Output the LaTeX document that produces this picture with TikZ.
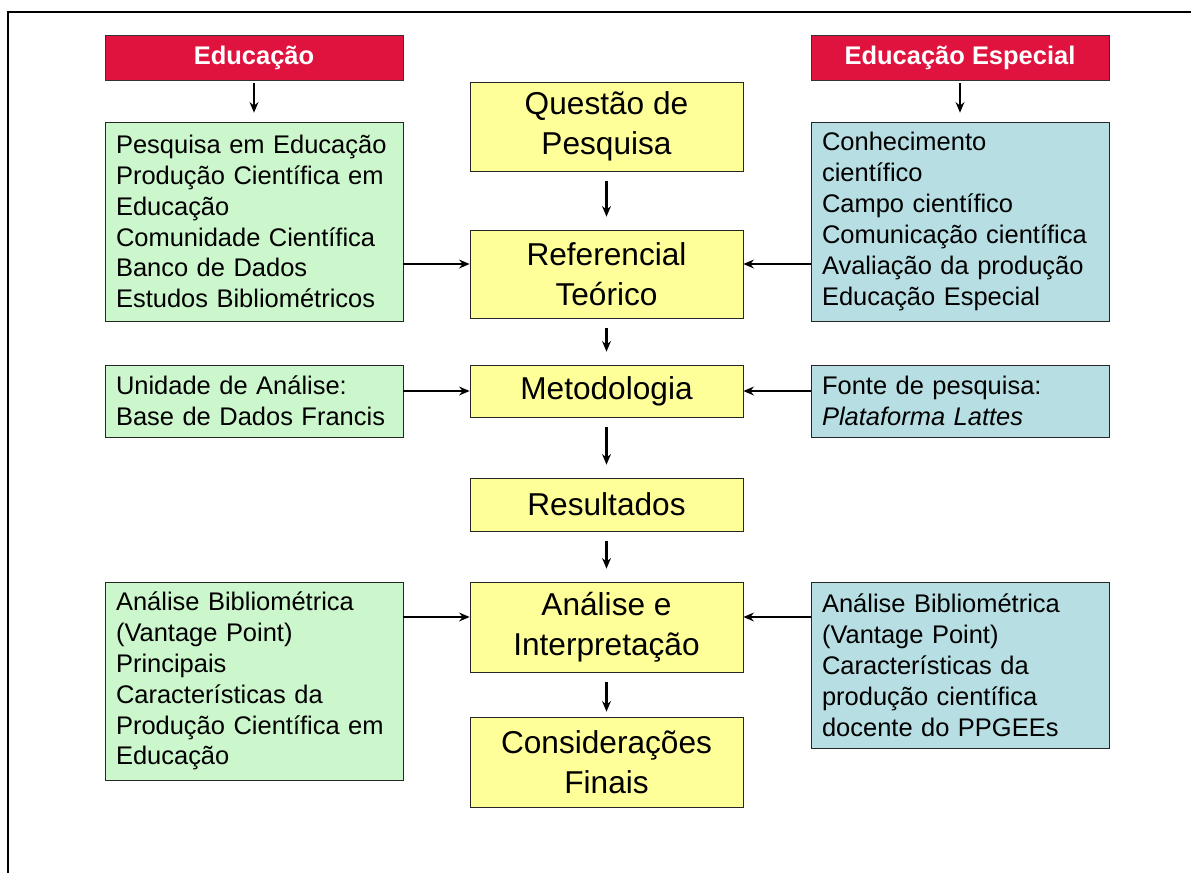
\documentclass[tikz,border=0pt]{standalone}
\usepackage{fontspec}
\setmainfont{Liberation Sans}
\usepackage{tikz}
\usetikzlibrary{positioning, arrows.meta, calc}

\definecolor{edured}{RGB}{224,18,62}
\definecolor{edugreen}{RGB}{204,246,204}
\definecolor{espblue}{RGB}{183,222,226}
\definecolor{stageyellow}{RGB}{255,255,153}

\tikzset{
    titlebox/.style={draw=black!80, fill=edured, text=white, inner sep=0pt,
        font=\bfseries\fontsize{14.5}{17}\selectfont,
        minimum width=5.96cm, minimum height=0.9cm},
    listbox/.style={draw=black!85, align=left, inner xsep=0.22cm, inner ysep=0pt,
        text width=5.52cm, font=\fontsize{14.5}{17.6}\selectfont},
    greenbox/.style={listbox, fill=edugreen},
    bluebox/.style={listbox, fill=espblue},
    stagebox/.style={draw=black!85, fill=stageyellow, align=center, inner sep=0pt,
        minimum width=5.46cm, font=\fontsize{18}{22.7}\selectfont},
    arr/.style={-{Stealth[length=6pt,width=5pt]}, line width=1.5pt},
    varr/.style={arr, line width=1.2pt, shorten <=0.2cm, shorten >=0.26cm}
}

\begin{document}
\begin{tikzpicture}[x=0.02cm, y=-0.02cm]
    \useasboundingbox (0,0) rectangle (1191,873);

    % --- frame ---
    \draw[line width=1.2pt] (8,873) -- (8,12) -- (1191,12);

    % --- Educação (left) ---
    \node[titlebox] (edu) at (254,57.5) {Educação};
    \node[greenbox, minimum height=3.98cm] (edu1) at (254,221.5)
        {Pesquisa em Educação\\ Produção Científica em\\ Educação\\
         Comunidade Científica\\ Banco de Dados\\ Estudos Bibliométricos};
    \node[greenbox, minimum height=1.44cm] (edu2) at (254,401)
        {Unidade de Análise:\\ Base de Dados Francis};
    \node[greenbox, minimum height=3.96cm] (edu3) at (254,681)
        {Análise Bibliométrica\\ (Vantage Point)\\ Principais\\
         Características da\\ Produção Científica em\\ Educação};

    % --- Educação Especial (right) ---
    \node[titlebox] (esp) at (960,57.5) {Educação Especial};
    \node[bluebox, minimum height=3.98cm] (esp1) at (960,221.5)
        {Conhecimento\\ científico\\ Campo científico\\
         Comunicação científica\\ Avaliação da produção\\ Educação Especial};
    \node[bluebox, minimum height=1.44cm] (esp2) at (960,401)
        {Fonte de pesquisa:\\ \textit{Plataforma Lattes}};
    \node[bluebox, minimum height=3.32cm] (esp3) at (960,665)
        {Análise Bibliométrica\\ (Vantage Point)\\ Características da\\
         produção científica\\ docente do PPGEEs};

    % --- research stages (centre) ---
    \node[stagebox, minimum height=1.78cm] (quest) at (606.5,126.5) {Questão de\\ Pesquisa};
    \node[stagebox, minimum height=1.76cm] (ref) at (606.5,274) {Referencial\\ Teórico};
    \node[stagebox, minimum height=1.04cm] (met) at (606.5,391) {Metodologia};
    \node[stagebox, minimum height=1.06cm] (res) at (606.5,504.5) {Resultados};
    \node[stagebox, minimum height=1.8cm] (ana) at (606.5,627) {Análise e\\ Interpretação};
    \node[stagebox, minimum height=1.8cm] (cons) at (606.5,762) {Considerações\\ Finais};

    % entry points on the stage boxes
    \coordinate (refin) at ($(ref.west)+(0,-10)$);
    \coordinate (refin2) at ($(ref.east)+(0,-10)$);
    \coordinate (anain) at ($(ana.west)+(0,-10)$);
    \coordinate (anain2) at ($(ana.east)+(0,-10)$);

    % --- arrows ---
    \draw[varr, shorten <=0.06cm, shorten >=0.18cm] (edu) -- (edu1);
    \draw[varr, shorten <=0.06cm, shorten >=0.18cm] (esp) -- (esp1);
    \draw[varr] (quest) -- (ref);
    \draw[varr] (ref) -- (met);
    \draw[varr] (met) -- (res);
    \draw[varr] (res) -- (ana);
    \draw[varr, shorten >=0.1cm] (ana) -- (cons);

    \draw[arr] (edu1.east |- refin) -- (refin);
    \draw[arr] (esp1.west |- refin2) -- (refin2);
    \draw[arr] (edu2.east |- met.west) -- (met.west);
    \draw[arr] (esp2.west |- met.east) -- (met.east);
    \draw[arr] (edu3.east |- anain) -- (anain);
    \draw[arr] (esp3.west |- anain2) -- (anain2);
\end{tikzpicture}
\end{document}
